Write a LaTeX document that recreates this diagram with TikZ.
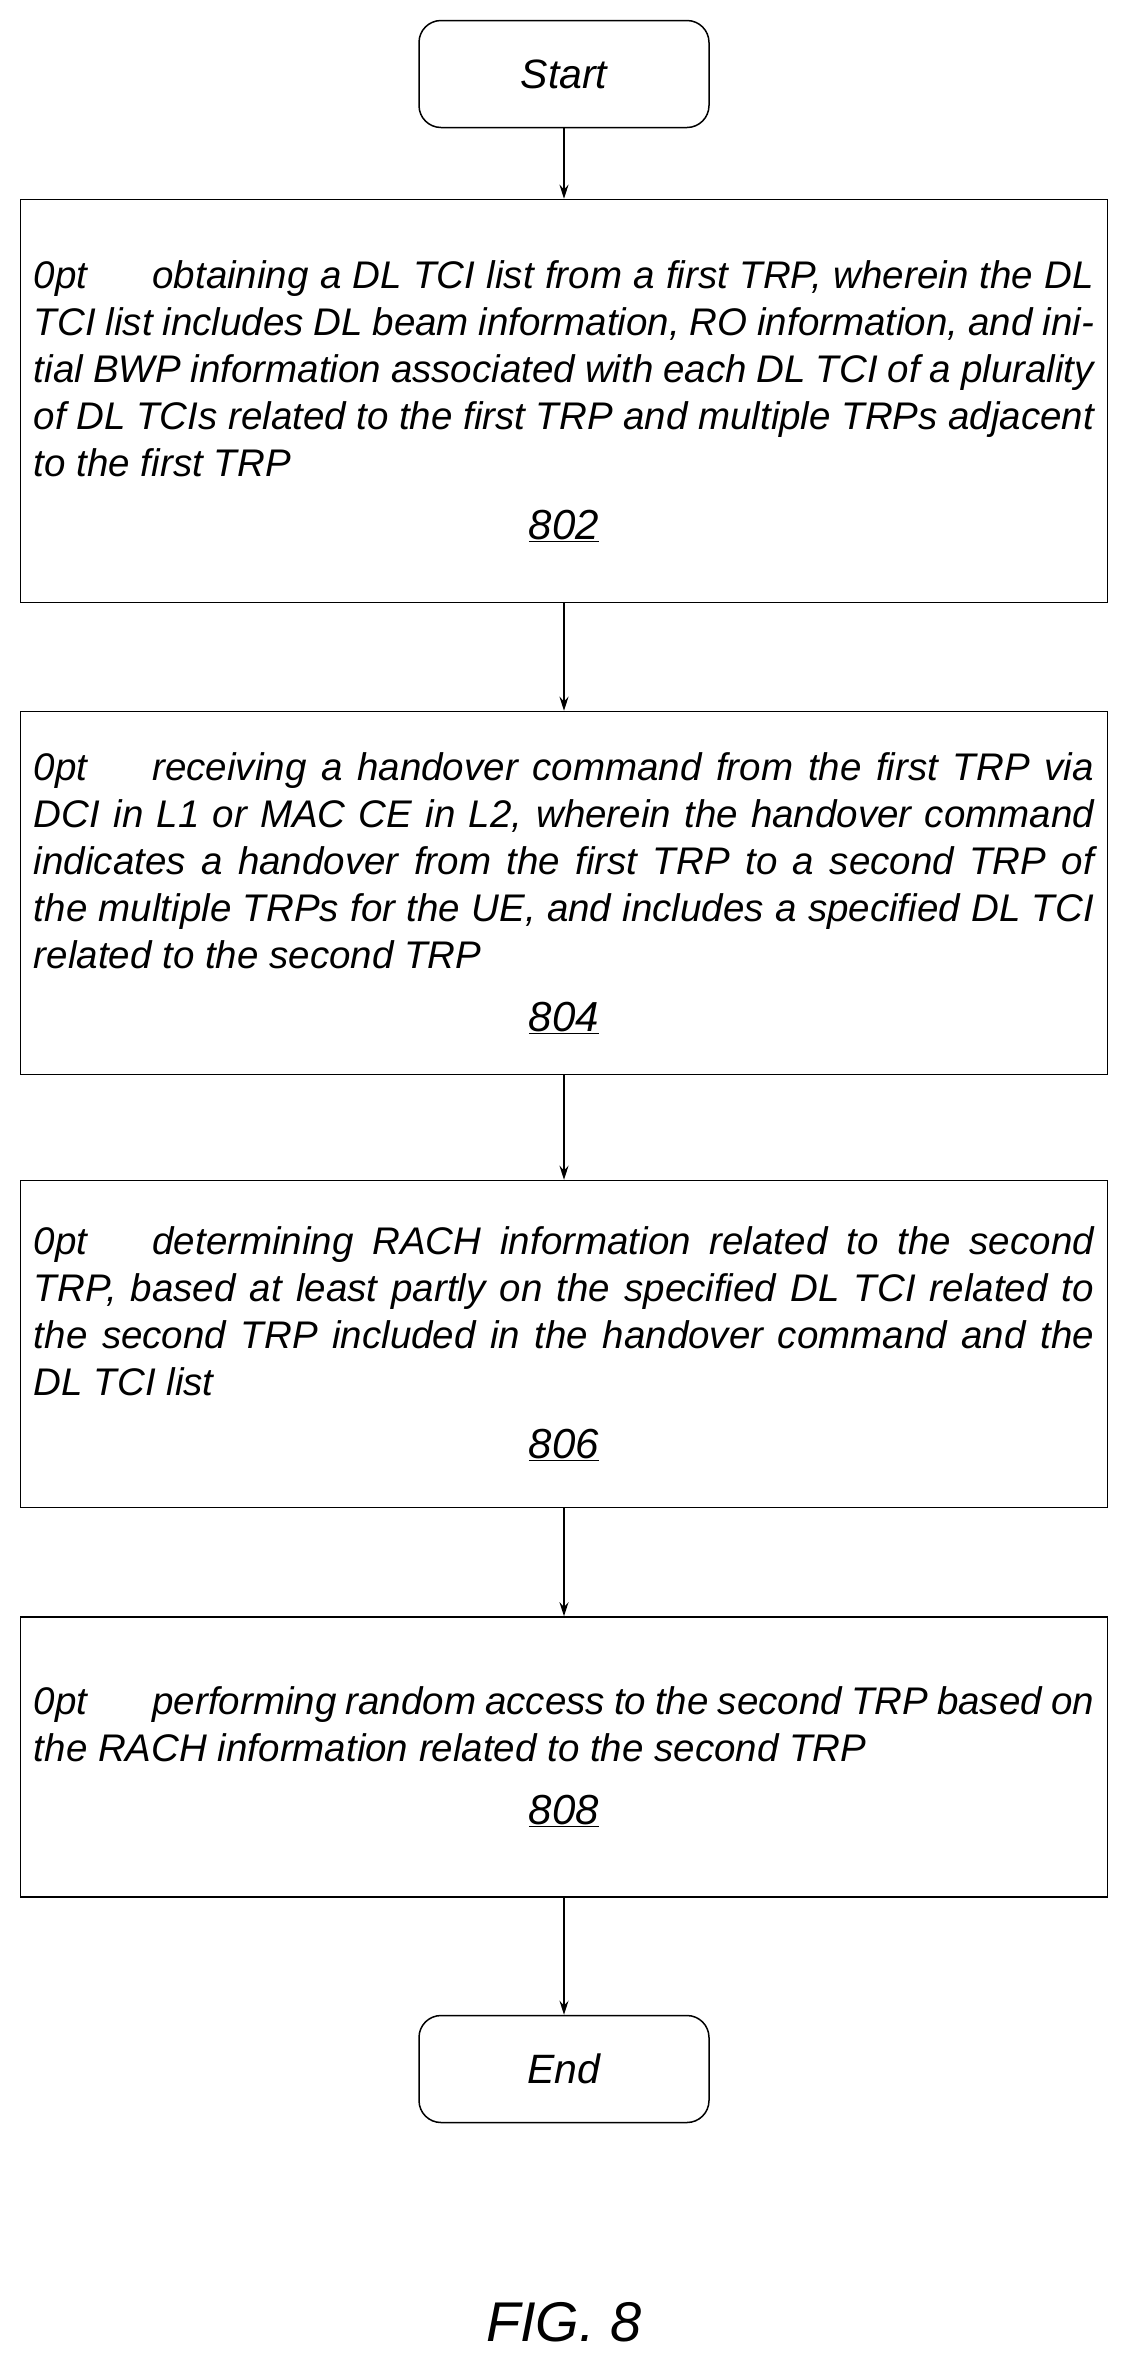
\documentclass[tikz,border=0pt]{standalone}
\usepackage{fontspec}
\usetikzlibrary{arrows.meta}
\setmainfont{Liberation Sans}
\begin{document}
\begin{tikzpicture}[x=1pt,y=-1pt,
  term/.style={draw,line width=1.5pt,rounded corners=22pt,minimum width=290pt,minimum height=107pt,font=\fontsize{41}{46}\selectfont\itshape},
  stepbox/.style={draw,line width=1.5pt,minimum width=1087pt,text width=1060pt,align=justify,inner sep=0pt,font=\fontsize{38.5}{47}\selectfont\itshape\hyphenpenalty=10000\exhyphenpenalty=10000},
  arr/.style={line width=1.3pt,-{Stealth[length=14pt,width=9pt]}}]
\useasboundingbox (0,0) rectangle (1131,2370);
\newcommand{\numline}[1]{\par\vspace{16pt}\centering{\fontsize{42}{47}\selectfont\underline{#1}}\par}
\node[term] (s) at (564,74) {Start};
\node[stepbox,minimum height=403pt] (b1) at (564,401) {\hspace*{65pt}obtaining a DL TCI list from a first TRP, wherein the DL TCI list includes DL beam information, RO information, and initial BWP information associated with each DL TCI of a plurality of DL TCIs related to the first TRP and multiple TRPs adjacent to the first TRP\numline{802}};
\node[stepbox,minimum height=363pt] (b2) at (564,893) {\hspace*{65pt}receiving a handover command from the first TRP via DCI in L1 or MAC CE in L2, wherein the handover command indicates a handover from the first TRP to a second TRP of the multiple TRPs for the UE, and includes a specified DL TCI related to the second TRP\numline{804}};
\node[stepbox,minimum height=327pt] (b3) at (564,1344) {\hspace*{65pt}determining RACH information related to the second TRP, based at least partly on the specified DL TCI related to the second TRP included in the handover command and the DL TCI list\numline{806}};
\node[stepbox,minimum height=280pt] (b4) at (564,1757) {\hspace*{65pt}performing random access to the second TRP based on the RACH information related to the second TRP\numline{808}};
\node[term] (e) at (564,2069) {End};
\node[font=\fontsize{56}{62}\selectfont\itshape] (f) at (564,2322) {FIG. 8};
\draw[arr] (s) -- (b1);
\draw[arr] (b1) -- (b2);
\draw[arr] (b2) -- (b3);
\draw[arr] (b3) -- (b4);
\draw[arr] (b4) -- (e);
\end{tikzpicture}
\end{document}
